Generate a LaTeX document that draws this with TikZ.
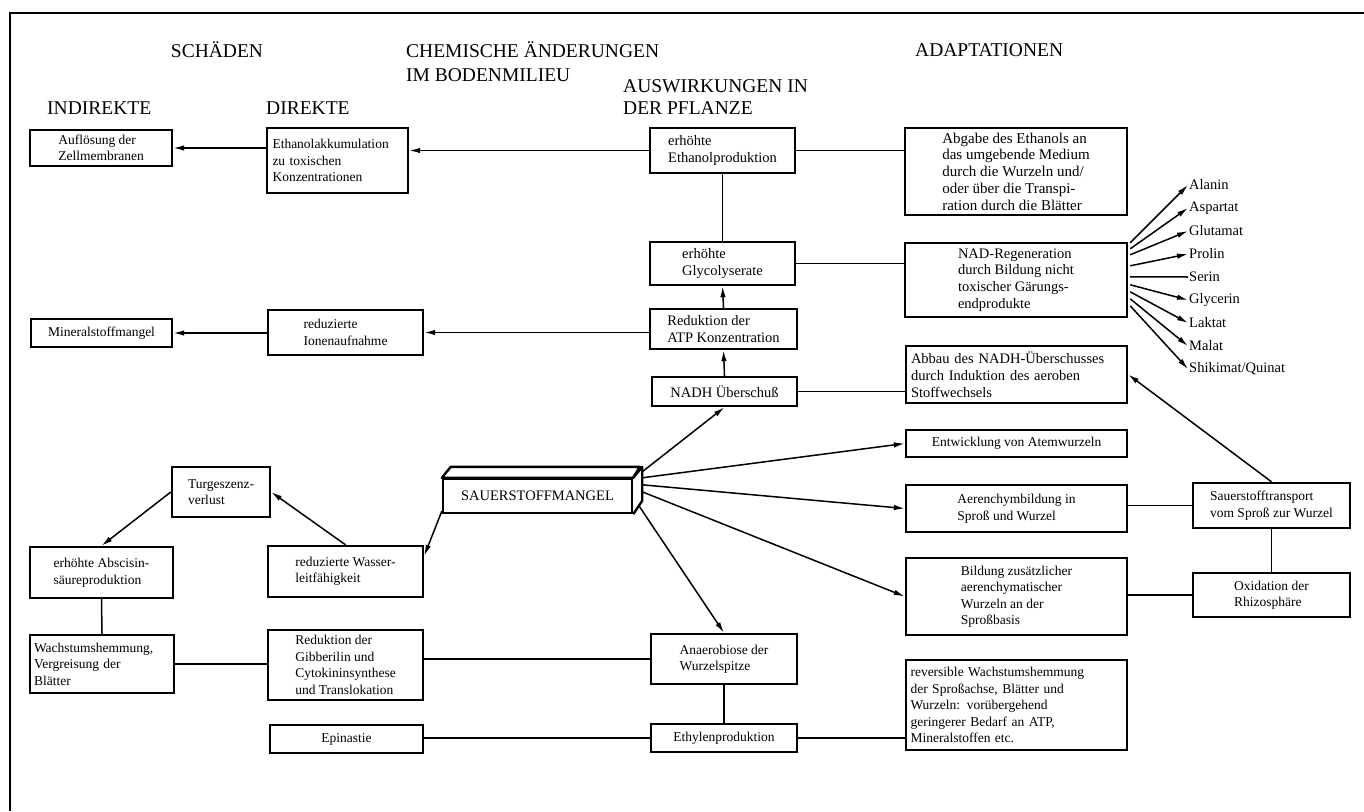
\documentclass[tikz,border=0pt]{standalone}
\usepackage{fontspec}
\setmainfont{Liberation Serif}
\usetikzlibrary{arrows.meta,calc}
\tikzset{
  bx/.style={draw, line width=2.4pt, align=left, font=\fontsize{13.5}{16.5}\selectfont, inner sep=3pt},
  big/.style={font=\fontsize{14.5}{16.8}\selectfont},
  hd/.style={font=\fontsize{19.5}{23}\selectfont, inner sep=0pt},
  con/.style={line width=1.5pt},
  arr/.style={con, -{Latex[length=11pt,width=5.5pt]}},
  leaf/.style={font=\fontsize{14.5}{16}\selectfont, inner sep=1pt},
}
\newcommand\Bx[7][]{%
  \pgfmathsetmacro\bw{#5-#3}\pgfmathsetmacro\bh{#6-#4}%
  \node[bx,minimum width=\bw pt,minimum height=\bh pt,#1] (#2) at ({(#3+#5)/2},{(#4+#6)/2}) {#7};}
\begin{document}
\begin{tikzpicture}[x=1pt,y=-1pt]
\useasboundingbox (0,0) rectangle (1364,811);
% frame
\draw[line width=1.8pt] (10,811) -- (10,13) -- (1364,13);
% headings
\node[hd] (hSch) at (217,50) {SCHÄDEN};
\node[hd,anchor=west] (hChem1) at (406,50) {CHEMISCHE ÄNDERUNGEN};
\node[hd,anchor=west] (hChem2) at (406,75) {IM BODENMILIEU};
\node[hd,anchor=west] (hAus1) at (623,86) {AUSWIRKUNGEN IN};
\node[hd,anchor=west] (hAus2) at (623,108) {DER PFLANZE};
\node[hd,anchor=west] (hAda) at (915,50) {ADAPTATIONEN};
\node[hd,anchor=west] (hInd) at (47,108) {INDIREKTE};
\node[hd,anchor=west] (hDir) at (266,108) {DIREKTE};
% boxes
\Bx{auf}{30}{130}{172}{166}{Auflösung der\\Zellmembranen}
\Bx[text width=130pt]{eth}{267}{128}{408}{193}{Ethanolakkumulation\\zu toxischen\\Konzentrationen}
\Bx[big]{ethp}{650}{128}{795}{173}{erhöhte\\Ethanolproduktion}
\Bx[font=\fontsize{15}{16.7}\selectfont]{abg}{905}{128}{1127}{215}{Abgabe des Ethanols an\\das umgebende Medium\\durch die Wurzeln und/\\oder über die Transpi-\\ration durch die Blätter}
\Bx[big]{gly}{650}{242}{795}{285}{erhöhte\\Glycolyserate}
\Bx[big]{nad}{905}{243}{1127}{317}{NAD-Regeneration\\durch Bildung nicht\\toxischer Gärungs-\\endprodukte}
\Bx{min}{31}{319}{172}{347}{Mineralstoffmangel}
\Bx{ion}{268}{310}{423}{355}{reduzierte\\Ionenaufnahme}
\Bx[big]{atp}{650}{309}{797}{349}{Reduktion der\\ATP Konzentration}
\Bx[big]{nadh}{652}{377}{797}{406}{NADH Überschuß}
\Bx[big,text width=211pt]{abb}{906}{346}{1127}{403}{Abbau des NADH-Überschusses\\durch Induktion des aeroben\\Stoffwechsels}
\Bx{ent}{906}{430}{1127}{457}{Entwicklung von Atemwurzeln}
% 3D box
\Bx[font=\fontsize{14.5}{17}\selectfont]{sau}{443}{479}{632}{513}{SAUERSTOFFMANGEL}
\draw[line width=2.4pt, line join=round] (sau.north west) -- ++(9,-11) -- ++(189,0) -- (sau.north east) -- cycle;
\draw[line width=2.4pt, line join=round] (sau.north east) -- ++(9,-11) -- ++(0,34) -- (sau.south east);
\Bx{tur}{172}{467}{270}{517}{Turgeszenz-\\verlust}
\Bx{abs}{30}{547}{173}{598}{erhöhte Abscisin-\\säureproduktion}
\Bx{was}{268}{546}{423}{597}{reduzierte Wasser-\\leitfähigkeit}
\Bx{aer}{906}{485}{1127}{532}{Aerenchymbildung in\\Sproß und Wurzel}
\Bx{stt}{1193}{483}{1350}{528}{Sauerstofftransport\\vom Sproß zur Wurzel}
\Bx{bil}{906}{558}{1127}{635}{Bildung zusätzlicher\\aerenchymatischer\\Wurzeln an der\\Sproßbasis}
\Bx{oxi}{1193}{573}{1350}{617}{Oxidation der\\Rhizosphäre}
\Bx[text width=136pt]{wac}{30}{635}{174}{693}{Wachstumshemmung,\\Vergreisung der\\Blätter}
\Bx{gib}{268}{630}{423}{700}{Reduktion der\\Gibberilin und\\Cytokininsynthese\\und Translokation}
\Bx{ana}{651}{634}{797}{684}{Anaerobiose der\\Wurzelspitze}
\Bx[text width=212pt]{rev}{906}{660}{1127}{750}{reversible Wachstumshemmung\\der Sproßachse, Blätter und\\Wurzeln: vorübergehend\\geringerer Bedarf an ATP,\\Mineralstoffen etc.}
\Bx{epi}{270}{725}{423}{753}{Epinastie}
\Bx{ethy}{651}{724}{797}{752}{Ethylenproduktion}
% leaves
\node[leaf,anchor=west] (l1) at (1188,185) {Alanin};
\node[leaf,anchor=west] (l2) at (1188,208) {Aspartat};
\node[leaf,anchor=west] (l3) at (1188,231) {Glutamat};
\node[leaf,anchor=west] (l4) at (1188,254) {Prolin};
\node[leaf,anchor=west] (l5) at (1188,277) {Serin};
\node[leaf,anchor=west] (l6) at (1188,300) {Glycerin};
\node[leaf,anchor=west] (l7) at (1188,323) {Laktat};
\node[leaf,anchor=west] (l8) at (1188,346) {Malat};
\node[leaf,anchor=west] (l9) at (1188,369) {Shikimat/Quinat};
\draw[arr] ($(nad.north east)+(2,1)$) -- (l1.west);
\draw[arr] ($(nad.north east)+(2,7)$) -- (l2.west);
\draw[arr] ($(nad.north east)+(2,13)$) -- (l3.west);
\draw[arr] ($(nad.north east)+(2,24)$) -- (l4.west);
\draw[con] ($(nad.north east)+(2,35)$) -- (l5.west);
\draw[arr] ($(nad.north east)+(2,43)$) -- (l6.west);
\draw[arr] ($(nad.north east)+(2,50)$) -- (l7.west);
\draw[arr] ($(nad.north east)+(2,57)$) -- (l8.west);
\draw[arr] ($(nad.north east)+(2,64)$) -- (l9.west);
% connectors
\draw[arr] (ethp.west) -- (eth.east |- ethp.west);
\draw[arr] (eth.west |- auf.east) -- (auf.east);
\draw[con] (ethp.east) -- (abg.west |- ethp.east);
\draw[con] (ethp.south) -- (gly.north);
\draw[con] (gly.east) -- (nad.west |- gly.east);
\draw[arr] (atp.north) -- (gly.south);
\draw[arr] (nadh.north) -- (atp.south);
\draw[arr] (atp.west |- ion.east) -- (ion.east);
\draw[arr] (ion.west |- min.east) -- (min.east);
\draw[con] (nadh.east) -- (abb.west |- nadh.east);
\draw[arr] (stt.north) -- (abb.east);
\draw[arr] ($(sau.north east)+(9,-6)$) -- (nadh.south);
\draw[arr] ($(sau.north east)+(9,0)$) -- (ent.west);
\draw[arr] ($(sau.north east)+(9,7)$) -- (aer.west);
\draw[arr] ($(sau.north east)+(9,14)$) -- (bil.west);
\draw[arr] ($(sau.south east)+(6,-8)$) -- (ana.north);
\draw[arr] ($(sau.south west)+(0,-3)$) -- ($(was.north east)+(0,11)$);
\draw[arr] (was.north) -- (tur.east);
\draw[arr] (tur.west) -- (abs.north);
\draw[con] (abs.south) -- (wac.north);
\draw[con] (aer.east |- stt.west) -- (stt.west);
\draw[con] (stt.south) -- (oxi.north);
\draw[con] (bil.east |- oxi.west) -- (oxi.west);
\draw[con] (ana.west) -- (gib.east |- ana.west);
\draw[con] (gib.west |- wac.east) -- (wac.east);
\draw[con] (ana.south) -- (ethy.north);
\draw[con] (ethy.west) -- (epi.east |- ethy.west);
\draw[con] (ethy.east) -- (rev.west |- ethy.east);
\end{tikzpicture}
\end{document}
